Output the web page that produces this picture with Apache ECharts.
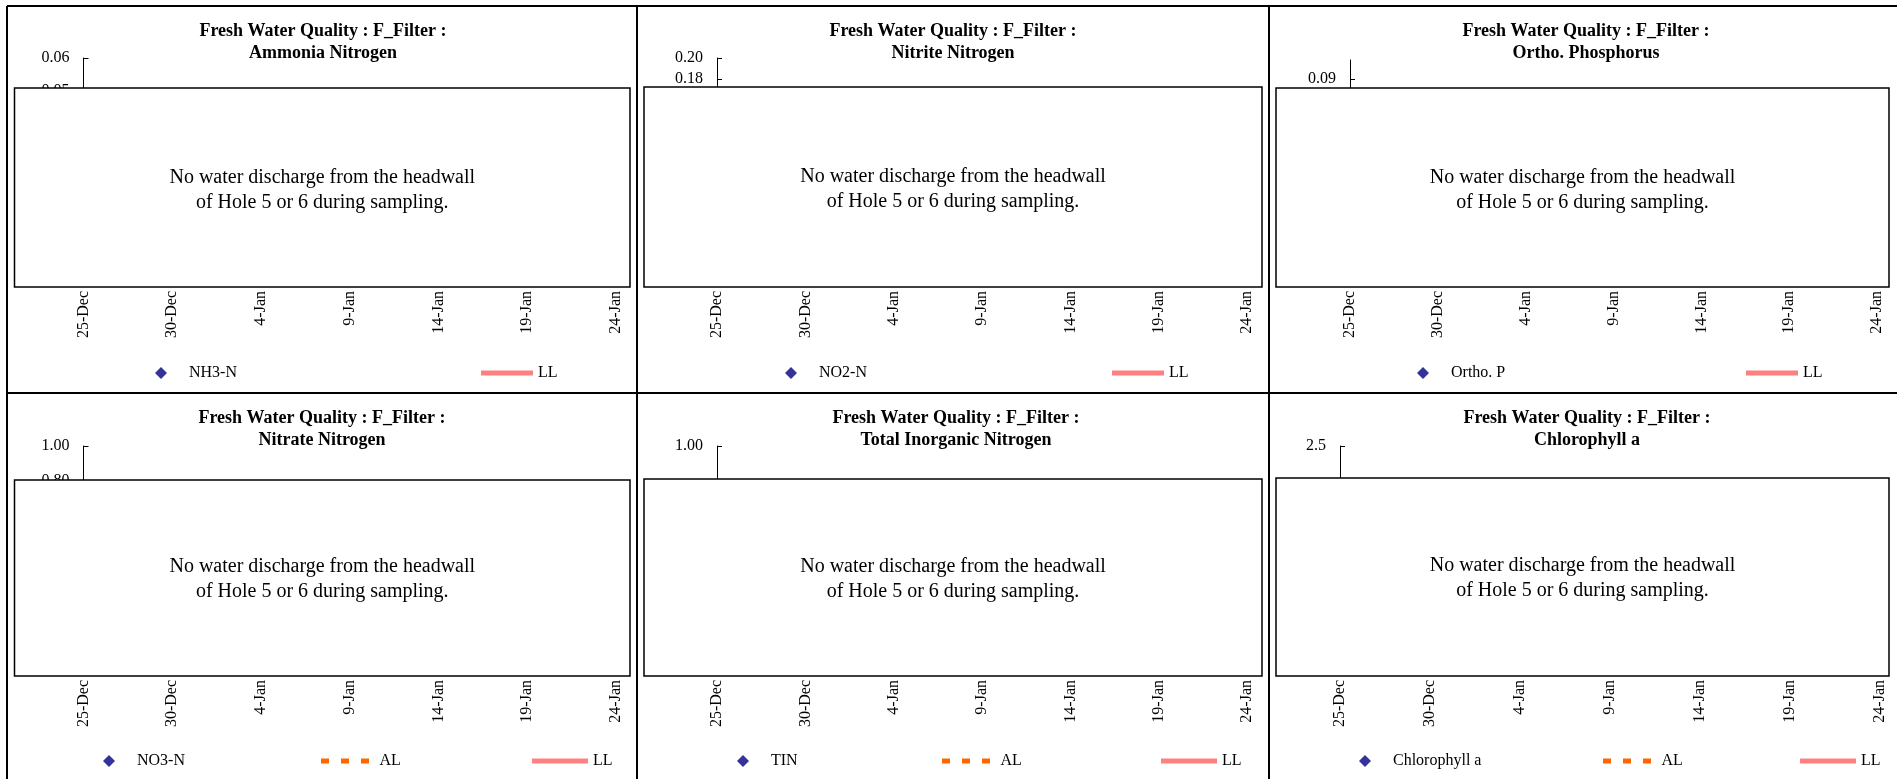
<!DOCTYPE html>
<html><head><meta charset="utf-8">
<script src="https://cdn.jsdelivr.net/npm/echarts@6/dist/echarts.min.js"></script>
<style>html,body{margin:0;padding:0;background:#fff}#c{width:1897px;height:779px}</style>
</head><body><div id="c"></div>
<script>
// ---- data ----
const xTickLabels = ['25-Dec','30-Dec','4-Jan','9-Jan','14-Jan','19-Jan','24-Jan'];
const xTickDays = [0,5,10,15,20,25,30];
const titlePrefix = 'Fresh Water Quality : F_Filter :';
const panelTitles = ['Ammonia Nitrogen','Nitrite Nitrogen','Ortho. Phosphorus','Nitrate Nitrogen','Total Inorganic Nitrogen','Chlorophyll a'];
const seriesNames = ['NH3-N','NO2-N','Ortho. P','NO3-N','TIN','Chlorophyll a'];
const nh3nValues = [];
const no2nValues = [];
const orthoPValues = [];
const no3nValues = [];
const tinValues = [];
const chlaValues = [];
const llValues = [];
const alValues = [];
const yMax = [0.06, 0.20, 0.10, 1.00, 1.00, 2.5];
const yInterval = [0.01, 0.02, 0.01, 0.2, 0.2, 0.5];
const yDecimals = [2, 2, 2, 2, 2, 1];
const orthoPTicks = [0,0.01,0.02,0.03,0.04,0.05,0.06,0.07,0.08,0.09];
const noDataNote = 'No water discharge from the headwall\nof Hole 5 or 6 during sampling.';

// ---- layout ----
const FONT = "'Liberation Serif','Times New Roman',serif";
const W = 1897;
const panelValues = [nh3nValues, no2nValues, orthoPValues, no3nValues, tinValues, chlaValues];
const L = [
  {gl:83.5, gr:616, gt:58, gh:198, xb:287, box:[14.5,88,630,287], tx:323, ty:20.5, ly:373, dia:161, al:null, ll:481, llw:52},
  {gl:717, gr:1247, gt:58, gh:210, xb:287, box:[644,87,1262,287], tx:953, ty:20.5, ly:373, dia:791, al:null, ll:1112, llw:52},
  {gl:1350, gr:1877, gt:60, gh:190, xb:287, box:[1276,88,1889,287], tx:1586, ty:20.5, ly:373, dia:1423, al:null, ll:1746, llw:52},
  {gl:83.5, gr:616, gt:446, gh:175, xb:676, box:[14.5,480,630,676], tx:322, ty:407, ly:761, dia:109, al:321, ll:532, llw:56},
  {gl:717, gr:1247, gt:446, gh:210, xb:676, box:[644,479,1262,676], tx:956, ty:407, ly:761, dia:743, al:942, ll:1161, llw:56},
  {gl:1340, gr:1880, gt:446, gh:210, xb:676, box:[1276,478,1889,676], tx:1587, ty:407, ly:761, dia:1365, al:1603, ll:1800, llw:56}
];

const grids = [], xAxes = [], yAxes = [], series = [], legends = [], graphics = [];
const txt = {fontFamily: FONT, fontSize: 16, color: '#000'};

L.forEach((p, i) => {
  grids.push({left: p.gl, width: p.gr - p.gl, top: p.gt, height: p.gh, containLabel: false});
  xAxes.push({
    type: 'value', gridIndex: i, min: 0, max: 30, interval: 5,
    offset: p.xb - (p.gt + p.gh),
    axisLine: {show: true, lineStyle: {color: '#000', width: 1}},
    axisTick: {show: true, inside: false, length: 4, lineStyle: {color: '#000'}},
    splitLine: {show: false},
    axisLabel: Object.assign({}, txt, {rotate: 90, margin: 4,
      formatter: v => { const k = xTickDays.indexOf(Math.round(v)); return k >= 0 ? xTickLabels[k] : ''; }})
  });
  const ya = {
    type: 'value', gridIndex: i, min: 0, max: yMax[i], interval: yInterval[i],
    axisLine: {show: true, lineStyle: {color: '#000', width: 1}},
    axisTick: {show: true, inside: true, length: 5, lineStyle: {color: '#000'}},
    splitLine: {show: false},
    axisLabel: Object.assign({}, txt, {margin: 14, formatter: v => Number(v).toFixed(yDecimals[i])})
  };
  if (i === 2) {
    ya.axisTick.customValues = orthoPTicks;
    ya.axisLabel.customValues = orthoPTicks;
  }
  yAxes.push(ya);

  series.push({name: seriesNames[i], type: 'scatter', xAxisIndex: i, yAxisIndex: i,
    data: panelValues[i], symbol: 'diamond', symbolSize: 11, itemStyle: {color: '#000080'}});
  if (p.al !== null) {
    series.push({name: 'AL', type: 'line', xAxisIndex: i, yAxisIndex: i, data: alValues, symbol: 'none',
      itemStyle: {color: '#ff6600'}, lineStyle: {color: '#ff6600', width: 5, type: [8, 12]}});
  }
  series.push({name: 'LL', type: 'line', xAxisIndex: i, yAxisIndex: i, data: llValues, symbol: 'none',
    itemStyle: {color: '#ff8080'}, lineStyle: {color: '#ff8080', width: 5}});

  // legends (content box is laid out from its bounding rect; text ~16px tall sets the top)
  const legBase = {padding: 0, selectedMode: false, symbolKeepAspect: true, textStyle: Object.assign({}, txt)};
  legends.push(Object.assign({}, legBase, {
    left: p.dia - 6, top: p.ly - 8, itemWidth: 46, itemHeight: 12,
    data: [{name: seriesNames[i], icon: 'path://M5,0L10,5L5,10L0,5Z'}]
  }));
  if (p.al !== null) {
    legends.push(Object.assign({}, legBase, {
      left: p.al, top: p.ly - 8, itemWidth: 59, itemHeight: 5,
      data: [{name: 'AL', icon: 'path://M0,0h8v5h-8zM20,0h8v5h-8zM40,0h8v5h-8z'}]
    }));
  }
  legends.push(Object.assign({}, legBase, {
    left: p.ll, top: p.ly - 8, itemWidth: p.llw, itemHeight: 5, symbolKeepAspect: false,
    data: [{name: 'LL', icon: 'rect'}]
  }));

  // title
  graphics.push({type: 'text', x: p.tx, y: p.ty, z: 100, style: {
    text: titlePrefix + '\n' + panelTitles[i], fontFamily: FONT, fontSize: 18, fontWeight: 'bold',
    lineHeight: 22, fill: '#000', align: 'center', verticalAlign: 'top'}});
  // note box
  const b = p.box;
  graphics.push({type: 'rect', z: 100, shape: {x: b[0], y: b[1], width: b[2] - b[0], height: b[3] - b[1]},
    style: {fill: '#fff', stroke: '#000', lineWidth: 1.5}});
  graphics.push({type: 'text', z: 101, x: (b[0] + b[2]) / 2, y: (b[1] + b[3]) / 2 + (i < 3 ? 2.5 : 1.5), style: {
    text: noDataNote, fontFamily: FONT, fontSize: 20, lineHeight: 25, fill: '#000',
    align: 'center', verticalAlign: 'middle'}});
});

// panel frame lines
[[7, 6, W, 6], [7, 6, 7, 779], [637, 6, 637, 779], [1269, 6, 1269, 779], [7, 393, W, 393]].forEach(s => {
  graphics.push({type: 'line', z: 102, shape: {x1: s[0], y1: s[1], x2: s[2], y2: s[3]},
    style: {stroke: '#000', lineWidth: 2}});
});

const chart = echarts.init(document.getElementById('c'), null, {renderer: 'canvas'});
chart.setOption({
  animation: false,
  backgroundColor: '#fff',
  grid: grids, xAxis: xAxes, yAxis: yAxes, series: series, legend: legends,
  graphic: {elements: graphics}
});
</script></body></html>
